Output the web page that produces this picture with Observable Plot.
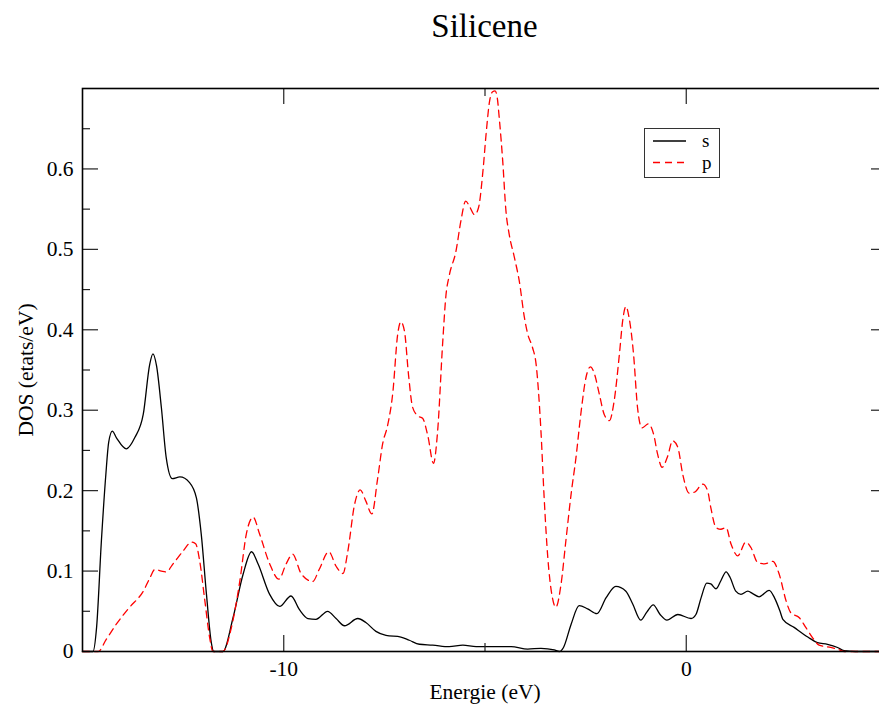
<!DOCTYPE html>
<html>
<head>
<meta charset="utf-8">
<script src="https://cdn.jsdelivr.net/npm/d3@7"></script>
<script src="https://cdn.jsdelivr.net/npm/@observablehq/plot@0.6"></script>
<style>
  html, body { margin: 0; padding: 0; background: #fff; overflow: hidden; }
  #wrap { position: relative; width: 887px; height: 706px; }
  #title { box-sizing: border-box; margin-left: 82px; width: 805px; height: 60px; padding-top: 10px;
           text-align: center; font: 33px "Liberation Serif", serif; line-height: 33px; color: #000; }
  #chart svg, #chart svg text { font-family: "Liberation Serif", "Times New Roman", serif !important; }
  #legend { position: absolute; left: 644px; top: 128px; width: 76px; height: 50px; box-sizing: border-box;
            border: 1.5px solid #333; background: #fff; }
  #legend svg { position: absolute; left: -1.5px; top: -1.5px; overflow: visible; }
  #legend svg text { font-family: "Liberation Serif", serif; }
</style>
</head>
<body>
<div id="wrap">
  <div id="title">Silicene</div>
  <div id="chart"></div>
  <div id="legend"></div>
</div>
<script>
// ---- data ----
const title = "Silicene";
const xLabel = "Energie (eV)";
const yLabel = "DOS (etats/eV)";
const seriesNames = ["s", "p"];

const sEnergy = [-15.0,-14.74,-14.65,-14.53,-14.42,-14.35,-14.26,-14.16,-13.91,-13.70,-13.49,-13.33,-13.25,-13.16,-13.04,-12.92,-12.77,-12.58,-12.34,-12.17,-12.05,-11.92,-11.80,-11.74,-11.51,-11.26,-11.01,-10.80,-10.64,-10.35,-10.10,-9.82,-9.61,-9.40,-9.20,-8.91,-8.70,-8.49,-8.16,-7.96,-7.71,-7.46,-7.09,-6.88,-6.63,-6.30,-5.89,-5.55,-5.22,-4.85,-4.35,-3.94,-3.61,-3.28,-3.15,-3.05,-2.86,-2.66,-2.45,-2.22,-1.99,-1.75,-1.50,-1.33,-1.13,-0.98,-0.82,-0.65,-0.48,-0.21,0.12,0.24,0.37,0.51,0.61,0.74,0.86,0.99,1.09,1.23,1.36,1.53,1.65,1.81,2.06,2.19,2.33,2.40,2.68,3.02,3.26,3.51,3.76,3.92,4.2,5.0];
const sDos    = [0,0,0.030,0.138,0.220,0.260,0.274,0.266,0.252,0.266,0.295,0.357,0.370,0.355,0.303,0.241,0.215,0.217,0.210,0.191,0.146,0.071,0.011,0,0,0.042,0.096,0.124,0.109,0.071,0.056,0.069,0.052,0.041,0.040,0.050,0.041,0.032,0.041,0.036,0.025,0.020,0.018,0.014,0.009,0.008,0.006,0.008,0.006,0.006,0.006,0.003,0.004,0.002,0,0.005,0.034,0.057,0.053,0.047,0.067,0.081,0.075,0.059,0.039,0.049,0.058,0.046,0.039,0.046,0.041,0.046,0.067,0.085,0.084,0.078,0.088,0.099,0.092,0.075,0.071,0.075,0.072,0.068,0.076,0.067,0.050,0.040,0.030,0.018,0.011,0.009,0.005,0.001,0,0];

const pEnergy = [-15.0,-14.61,-14.41,-14.16,-13.83,-13.49,-13.33,-13.20,-13.04,-12.92,-12.75,-12.50,-12.29,-12.19,-12.09,-11.96,-11.84,-11.76,-11.51,-11.30,-11.09,-10.93,-10.76,-10.60,-10.35,-10.12,-9.94,-9.78,-9.57,-9.28,-9.12,-8.88,-8.70,-8.53,-8.41,-8.24,-8.10,-7.96,-7.81,-7.67,-7.54,-7.42,-7.29,-7.17,-7.09,-7.00,-6.90,-6.80,-6.67,-6.55,-6.42,-6.28,-6.18,-6.05,-5.97,-5.89,-5.72,-5.60,-5.48,-5.38,-5.26,-5.16,-5.05,-4.97,-4.89,-4.81,-4.75,-4.70,-4.64,-4.56,-4.48,-4.40,-4.27,-4.15,-4.02,-3.94,-3.82,-3.73,-3.61,-3.53,-3.44,-3.34,-3.24,-3.11,-2.99,-2.86,-2.74,-2.62,-2.49,-2.38,-2.28,-2.16,-2.04,-1.91,-1.79,-1.66,-1.58,-1.50,-1.42,-1.31,-1.21,-1.10,-0.94,-0.81,-0.71,-0.60,-0.46,-0.34,-0.21,-0.09,0.07,0.20,0.41,0.53,0.61,0.74,0.86,0.99,1.11,1.28,1.48,1.61,1.77,1.94,2.15,2.31,2.48,2.60,2.81,2.97,3.14,3.30,3.59,3.76,3.92,5.0];
const pDos    = [0,0,0.015,0.034,0.055,0.075,0.091,0.102,0.100,0.099,0.109,0.125,0.136,0.134,0.113,0.063,0.017,0,0,0.030,0.088,0.146,0.167,0.146,0.109,0.090,0.109,0.121,0.097,0.087,0.102,0.124,0.106,0.097,0.124,0.183,0.201,0.187,0.171,0.214,0.259,0.281,0.322,0.394,0.410,0.398,0.344,0.304,0.293,0.290,0.268,0.234,0.272,0.385,0.443,0.467,0.498,0.535,0.560,0.553,0.543,0.552,0.598,0.645,0.683,0.696,0.697,0.690,0.660,0.610,0.548,0.519,0.490,0.461,0.415,0.395,0.378,0.357,0.274,0.191,0.117,0.071,0.055,0.084,0.138,0.196,0.241,0.295,0.341,0.354,0.345,0.320,0.295,0.287,0.312,0.370,0.411,0.429,0.415,0.370,0.303,0.278,0.283,0.270,0.245,0.229,0.243,0.262,0.254,0.221,0.197,0.198,0.208,0.200,0.179,0.154,0.152,0.154,0.134,0.119,0.136,0.129,0.111,0.109,0.112,0.096,0.063,0.048,0.042,0.030,0.017,0.008,0.005,0.003,0,0];

const xDomain = [-15, 5];
const yDomain = [0, 0.7];
const xLabelTicks = [-10, 0];
const xMajorTicks = [-10, 0];
const xMinorTicks = [-5];
const yLabelTicks = [0, 0.1, 0.2, 0.3, 0.4, 0.5, 0.6];
const yMajorTicks = [0.1, 0.2, 0.3, 0.4, 0.5, 0.6];
const yMinorTicks = [0.05, 0.15, 0.25, 0.35, 0.45, 0.55, 0.65];

// ---- build chart ----
const sData = sEnergy.map((e, i) => ({energy: e, dos: sDos[i]}));
const pData = pEnergy.map((e, i) => ({energy: e, dos: pDos[i]}));

const width = 887, height = 646;
const mL = 82, mR = 0, mT = 28, mB = 55;
const W = width - mL - mR, H = height - mT - mB;
const majorLen = 16, minorLen = 8;
const tickStyle = {stroke: "#222", strokeWidth: 1.2};
const serif = "'Liberation Serif', 'Times New Roman', serif";

const chart = Plot.plot({
  width, height,
  marginLeft: mL, marginRight: mR, marginTop: mT, marginBottom: mB,
  style: {fontFamily: serif, fontSize: "21.5px", color: "#000", background: "#fff", maxWidth: "none", overflow: "visible"},
  x: {domain: xDomain},
  y: {domain: yDomain},
  marks: [
    Plot.line(sData, {x: "energy", y: "dos", stroke: "#000", strokeWidth: 1.3, curve: "monotone-x"}),
    Plot.line(pData, {x: "energy", y: "dos", stroke: "#ff0000", strokeWidth: 1.3, strokeDasharray: "7,5", curve: "monotone-x"}),
    // inward ticks on all four sides
    Plot.tickY(yMajorTicks, {y: d => d, insetRight: W - majorLen, ...tickStyle}),
    Plot.tickY(yMajorTicks, {y: d => d, insetLeft: W - majorLen, ...tickStyle}),
    Plot.tickY(yMinorTicks, {y: d => d, insetRight: W - minorLen, ...tickStyle}),
    Plot.tickY(yMinorTicks, {y: d => d, insetLeft: W - minorLen, ...tickStyle}),
    Plot.tickX(xMajorTicks, {x: d => d, insetTop: H - majorLen, ...tickStyle}),
    Plot.tickX(xMajorTicks, {x: d => d, insetBottom: H - majorLen, ...tickStyle}),
    Plot.tickX(xMinorTicks, {x: d => d, insetTop: H - minorLen, ...tickStyle}),
    Plot.tickX(xMinorTicks, {x: d => d, insetBottom: H - minorLen, ...tickStyle}),
    Plot.axisX({ticks: xLabelTicks, tickSize: 0, tickPadding: 9, tickFormat: d => String(d), fontFamily: serif,
                label: xLabel, labelAnchor: "center", labelOffset: 47, labelArrow: "none"}),
    Plot.axisY({ticks: yLabelTicks, tickSize: 0, tickPadding: 9, tickFormat: d => d === 0 ? "0" : d.toFixed(1), fontFamily: serif,
                label: yLabel, labelAnchor: "center", labelOffset: 65, labelArrow: "none"}),
    Plot.frame({stroke: "#000", strokeWidth: 1.6})
  ]
});
document.getElementById("chart").appendChild(chart);

// ---- legend (inside the frame, as in the reference) ----
const ns = "http://www.w3.org/2000/svg";
const lg = document.createElementNS(ns, "svg");
lg.setAttribute("width", 76); lg.setAttribute("height", 50);
const legendItems = [
  {name: seriesNames[0], stroke: "#000", dash: null},
  {name: seriesNames[1], stroke: "#ff0000", dash: "7,5"}
];
legendItems.forEach((it, i) => {
  const y = 13 + i * 21.5;
  const ln = document.createElementNS(ns, "line");
  ln.setAttribute("x1", 9); ln.setAttribute("x2", 42);
  ln.setAttribute("y1", y); ln.setAttribute("y2", y);
  ln.setAttribute("stroke", it.stroke); ln.setAttribute("stroke-width", 1.3);
  if (it.dash) ln.setAttribute("stroke-dasharray", it.dash);
  lg.appendChild(ln);
  const tx = document.createElementNS(ns, "text");
  tx.setAttribute("x", 58); tx.setAttribute("y", y + 6);
  tx.setAttribute("font-size", "19");
  tx.textContent = it.name;
  lg.appendChild(tx);
});
document.getElementById("legend").appendChild(lg);
</script>
</body>
</html>
